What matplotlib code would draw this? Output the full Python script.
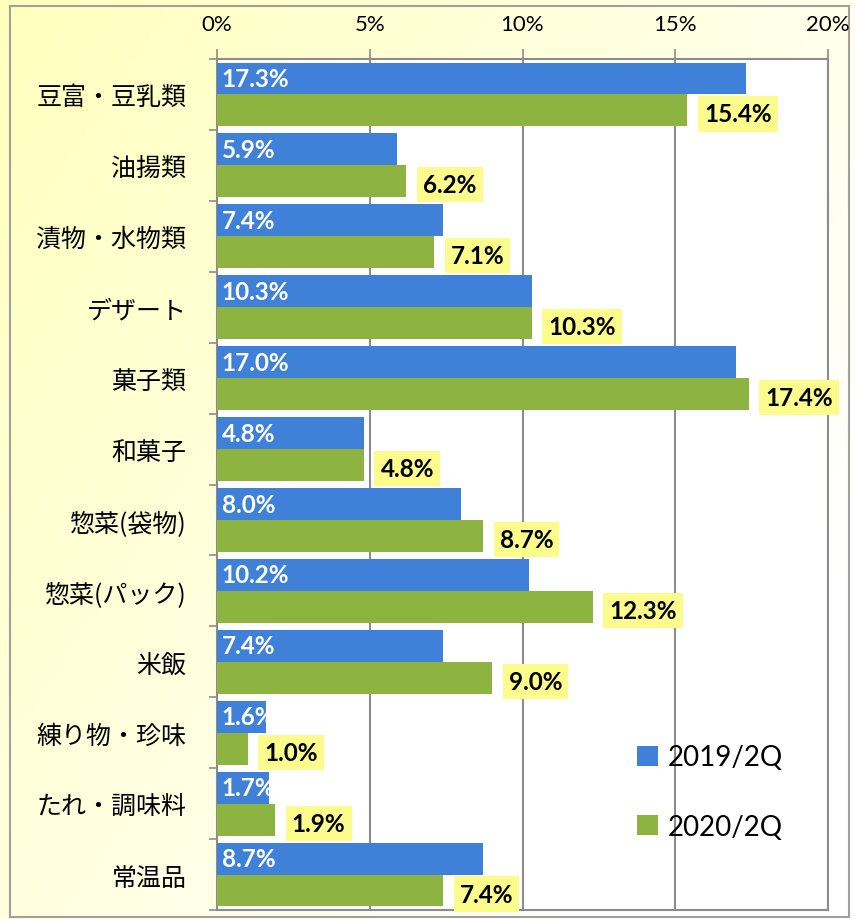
import numpy as np
import matplotlib.pyplot as plt
from matplotlib.patches import Rectangle

categories = ["豆富・豆乳類", "油揚類", "漬物・水物類", "デザート", "菓子類", "和菓子",
              "惣菜(袋物)", "惣菜(パック)", "米飯", "練り物・珍味", "たれ・調味料", "常温品"]
q2019 = [17.3, 5.9, 7.4, 10.3, 17.0, 4.8, 8.0, 10.2, 7.4, 1.6, 1.7, 8.7]
q2020 = [15.4, 6.2, 7.1, 10.3, 17.4, 4.8, 8.7, 12.3, 9.0, 1.0, 1.9, 7.4]
series = ["2019/2Q", "2020/2Q"]

blue = '#3F80D9'
green = '#8DB440'
grid_c = '#8C8C8C'
latin = ['Lato', 'DejaVu Sans']
cjk = ['Noto Sans CJK JP', 'DejaVu Sans']

fig = plt.figure(figsize=(8.55, 9.2), dpi=100)

# yellow gradient background
bg = fig.add_axes([0, 0, 1, 1], zorder=-10)
yy, xx = np.mgrid[0:1:200j, 0:1:200j]
t = np.clip(0.7 * xx + 0.5 * yy, 0, 1)
top = np.array([1.0, 1.0, 0.74])
end = np.array([1.0, 1.0, 1.0])
img = top[None, None, :] * (1 - t[..., None]) + end[None, None, :] * t[..., None]
bg.imshow(img, extent=[0, 1, 0, 1], aspect='auto', origin='upper')
bg.set_xlim(0, 1)
bg.set_ylim(0, 1)
bg.axis('off')
bg.add_patch(Rectangle((10/855, 2/920), 839/855, 911/920, fill=False,
                       edgecolor='#A0A0A0', linewidth=1.5))

ax = fig.add_axes([217/855, 1 - 911/920, 611/855, 851/920])
ax.set_facecolor('white')

n = len(categories)
ypos = np.arange(n)
h = 0.45
ax.barh(ypos - h/2, q2019, height=h, color=blue, label=series[0], zorder=3)
ax.barh(ypos + h/2, q2020, height=h, color=green, label=series[1], zorder=3)

for i in range(n):
    ax.text(0.16, ypos[i] - h/2, f"{q2019[i]:.1f}%", color='white', fontsize=17.5,
            fontweight='bold', family=latin, va='center', ha='left', zorder=4)
    ax.text(q2020[i] + 0.55, ypos[i] + h/2 + 0.05, f"{q2020[i]:.1f}%", color='black',
            fontsize=17.5, fontweight='bold', family=latin, va='center', ha='left', zorder=4,
            bbox=dict(boxstyle='square,pad=0.25', facecolor='#FCFC8C', edgecolor='none'))

ax.set_xlim(0, 20)
ax.set_ylim(n - 0.5, -0.5)
ax.set_xticks([0, 5, 10, 15, 20])
ax.set_xticklabels([f"{v}%" for v in [0, 5, 10, 15, 20]], fontsize=16, family=latin)
ax.xaxis.tick_top()
ax.tick_params(axis='x', length=7, width=1.2, color=grid_c, pad=11)
ax.set_yticks(ypos)
ax.set_yticklabels(categories, fontsize=18, family=cjk)
ax.set_yticks(np.arange(n + 1) - 0.5, minor=True)
ax.tick_params(axis='y', which='major', length=0, pad=22)
ax.tick_params(axis='y', which='minor', length=6, width=1.2, color=grid_c)
ax.grid(axis='x', color=grid_c, linewidth=1.5, zorder=1)
for s in ax.spines.values():
    s.set_color(grid_c)
    s.set_linewidth(1.5)

fig.legend(loc='center left', bbox_to_anchor=(612/855, 1 - 793/920), frameon=False,
           prop={'family': latin, 'size': 20}, handlelength=0.75, handleheight=0.75,
           handletextpad=0.35, labelspacing=1.55)

fig.savefig("out.png", dpi=100)
